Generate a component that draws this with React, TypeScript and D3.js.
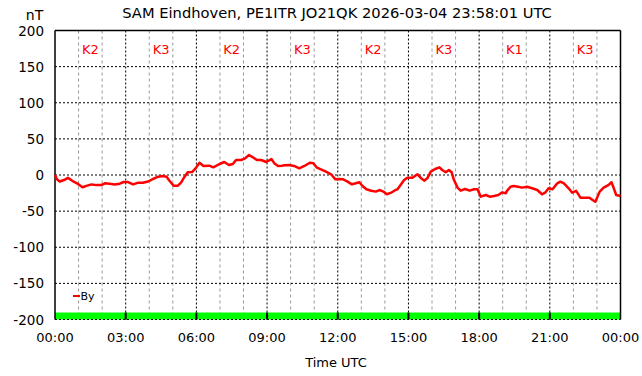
import React from "react";
import * as d3 from "d3";

const minutes = [0,5,12,23,33,44,56,70,80,93,105,118,127,139,152,165,175,186,199,212,224,237,250,263,275,284,290,302,313,321,330,338,349,358,368,378,393,403,419,431,443,453,461,474,484,494,504,514,525,538,551,559,568,578,584,596,609,622,635,649,658,666,677,690,703,714,724,734,745,756,766,775,783,793,805,817,826,836,845,856,867,872,880,889,897,910,923,931,940,948,957,968,979,986,995,1003,1010,1016,1025,1033,1044,1056,1067,1076,1084,1097,1107,1118,1129,1139,1148,1151,1160,1168,1179,1189,1202,1215,1228,1240,1249,1257,1267,1279,1287,1296,1308,1317,1327,1338,1351,1361,1369,1376,1387,1397,1410,1417,1423,1429,1440];
const byValues = [0,-6,-9,-7,-4,-8,-11.5,-17,-15,-13,-14,-14,-11.5,-12,-13,-12,-9.7,-9.7,-13,-10.6,-10.6,-9,-5.5,-2.3,-1.4,-2.3,-7,-14.8,-14.8,-10.6,-2.3,3.7,4,9.2,17,12.5,12.9,10.6,15.2,18,13.8,15.2,20.8,20.8,23,27.7,24.5,20.8,20.8,18,22,16,12.5,12.9,13.4,13.8,12.5,9.2,12.5,17,16.2,10.6,7.9,4.6,1,-6,-5.5,-6,-9.2,-12.9,-11.5,-10,-15.2,-19.8,-21.7,-23,-20.8,-23,-26.7,-24.5,-20.8,-19.8,-13.8,-7,-3.7,-3.7,1,-3.7,-7.8,-4.6,4.6,8.3,10.6,6.9,3.7,6.9,3.7,-7,-17.5,-21.7,-19.4,-21.7,-19.8,-19.8,-30,-27.7,-30,-29,-27.7,-24,-25.3,-22,-16.2,-15.2,-16.2,-17.5,-16.2,-18.4,-20.8,-26.7,-24,-18.4,-19.8,-11.5,-9.2,-11.5,-18.4,-24.5,-22,-31.4,-31.4,-31.4,-34.6,-37,-23,-17.5,-13.8,-10,-18.4,-27.7,-29];

const yTicks = [200, 150, 100, 50, 0, -50, -100, -150, -200];
const xTickLabels = ["00:00", "03:00", "06:00", "09:00", "12:00", "15:00", "18:00", "21:00", "00:00"];
const kLabels = ["K2", "K3", "K2", "K3", "K2", "K3", "K1", "K3"];
const title = "SAM Eindhoven, PE1ITR JO21QK 2026-03-04 23:58:01 UTC";

export default function App() {
  const W = 642, H = 376;
  const x = d3.scaleLinear().domain([0, 1440]).range([55, 620.5]);
  const y = d3.scaleLinear().domain([-200, 200]).range([319.5, 30.5]);
  const font = "DejaVu Sans, sans-serif";
  const line = d3.line<number>().x((_, i) => x(minutes[i])).y((d) => y(d));
  const majors = d3.range(0, 1441, 180);
  const hours = d3.range(0, 1441, 60).filter((m) => m % 180 !== 0);
  const bandTop = y(-200) - 7;

  return (
    <div style={{ position: "fixed", left: 0, top: 0 }}>
      <svg width={W} height={H} style={{ display: "block", background: "#fff" }}>
        <rect width={W} height={H} fill="#fff" />
        {hours.map((m) => (
          <line key={"h" + m} x1={x(m)} x2={x(m)} y1={y(200)} y2={y(-200)} stroke="#999" strokeWidth={1} strokeDasharray="3,3" />
        ))}
        {majors.slice(1, -1).map((m) => (
          <line key={"v" + m} x1={x(m)} x2={x(m)} y1={y(200)} y2={y(-200)} stroke="#000" strokeWidth={1} strokeDasharray="2,2" />
        ))}
        <rect x={x(0)} y={bandTop} width={x(1440) - x(0)} height={y(-200) - bandTop} fill="#00ff00" />
        {majors.slice(1, -1).map((m) => (
          <line key={"b" + m} x1={x(m)} x2={x(m)} y1={bandTop} y2={y(-200)} stroke="#000" strokeWidth={2} />
        ))}
        {yTicks.slice(1).map((v) => (
          <line key={"g" + v} x1={x(0)} x2={x(1440)} y1={y(v)} y2={y(v)} stroke="#000" strokeWidth={1} strokeDasharray="2,2" />
        ))}
        <line x1={x(0)} x2={x(1440)} y1={y(200)} y2={y(200)} stroke="#000" strokeWidth={1.5} />
        <line x1={x(0)} x2={x(0)} y1={y(200)} y2={y(-200)} stroke="#000" strokeWidth={1.5} />
        <line x1={x(1440)} x2={x(1440)} y1={y(200)} y2={y(-200)} stroke="#000" strokeWidth={1.5} />
        {kLabels.map((k, i) => (
          <text key={"k" + i} x={x(i * 180 + 90)} y={54} fontSize={13} fontFamily={font} fill="#ff0000" textAnchor="middle">{k}</text>
        ))}
        <path d={line(byValues) || ""} fill="none" stroke="#ff0000" strokeWidth={2.5} strokeLinejoin="round" />
        <line x1={73} x2={80} y1={296} y2={296} stroke="#ff0000" strokeWidth={2} />
        <text x={80.5} y={300} fontSize={11} fontFamily={font} fill="#000">By</text>
        {yTicks.map((v) => (
          <text key={"y" + v} x={44} y={y(v) + 5} fontSize={13.5} fontFamily={font} textAnchor="end" fill="#000">{v}</text>
        ))}
        {xTickLabels.map((t, i) => (
          <text key={"x" + i} x={x(i * 180)} y={342} fontSize={13} fontFamily={font} textAnchor="middle" fill="#000">{t}</text>
        ))}
        <text x={34.5} y={20} fontSize={14} fontFamily={font} textAnchor="middle" fill="#000">nT</text>
        <text x={336} y={367} fontSize={13} fontFamily={font} textAnchor="middle" fill="#000">Time UTC</text>
        <text x={337} y={18} fontSize={14.7} fontFamily={font} textAnchor="middle" fill="#000">{title}</text>
      </svg>
    </div>
  );
}
